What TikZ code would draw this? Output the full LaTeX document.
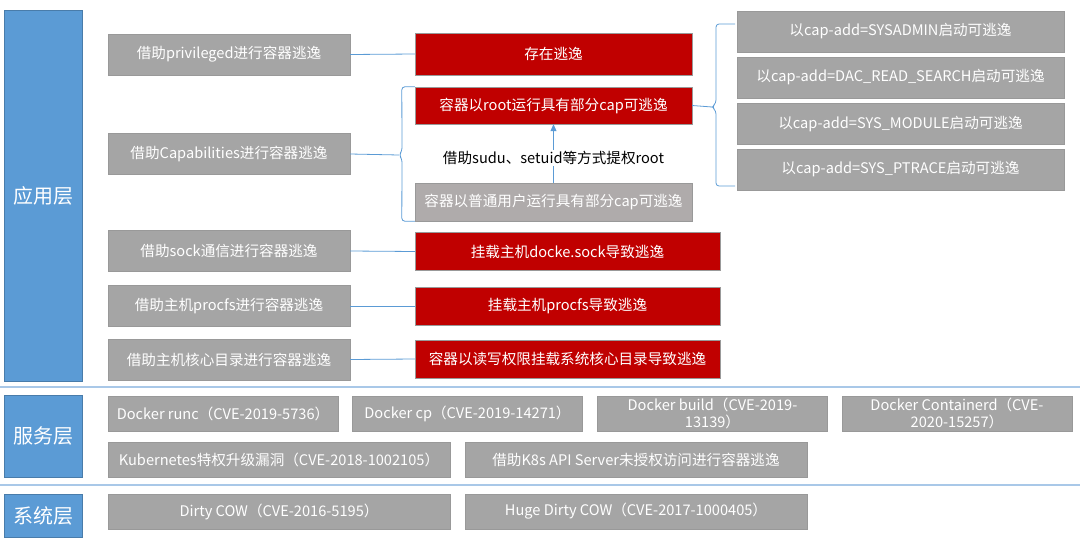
\documentclass[tikz,border=0pt]{standalone}
\usepackage{fontspec}
\setmainfont{Noto Sans CJK SC}
\usepackage{tikz}
\usetikzlibrary{positioning}
\usetikzlibrary{arrows.meta,calc}
\definecolor{tierblue}{HTML}{5B9BD5}
\definecolor{boxgray}{HTML}{A5A5A5}
\definecolor{usergray}{HTML}{AFABAB}
\definecolor{riskred}{HTML}{C00000}
\definecolor{divblue}{HTML}{A9C8E8}
\tikzstyle{tier}=[rectangle,fill=tierblue,draw=tierblue!80!black,text=white,inner sep=0pt,font=\fontsize{20}{23}\selectfont]
\tikzstyle{waybox}=[rectangle,fill=boxgray,draw=black!40,text=white,inner sep=0pt,align=center,font=\fontsize{14.6}{17.5}\selectfont]
\tikzstyle{riskbox}=[waybox,fill=riskred]
\tikzstyle{conn} = [draw,tierblue,line width=0.8pt]
\tikzstyle{divider} = [draw,divblue,line width=2.5pt]

\begin{document}
\begin{tikzpicture}[x=1pt,y=-1pt]
    \useasboundingbox (0,0) rectangle (1080,544);
    % First we draw the three layers on the left
    \foreach \pos/\name/\h/\label in {{(43,195.5)/app/371/应用层}, {(43,436)/svc/82/服务层}, {(43,515.5)/sys/43/系统层}}
        \node[tier,minimum width=78pt,minimum height=\h pt] (\name) at \pos {\label};

    \draw[divider] (0,387) -- (1080,387);
    \draw[divider] (0,485) -- (1080,485);

    % ways of escaping
    \foreach \pos/\name/\label in {{(229,54.5)/priv/借助privileged进行容器逃逸}, {(229,154)/caps/借助Capabilities进行容器逃逸}, {(229,251)/sock/借助sock通信进行容器逃逸}, {(229,306)/procfs/借助主机procfs进行容器逃逸}, {(229,359.5)/kdir/借助主机核心目录进行容器逃逸}}
        \node[waybox,minimum width=242pt,minimum height=41pt] (\name) at \pos {\label};

    % what makes it possible
    \node[riskbox,minimum width=277pt,minimum height=42pt] (exist) at (553.5,54) {存在逃逸};
    \node[riskbox,minimum width=277pt,minimum height=37pt] (root) at (553.5,105.5) {容器以root运行具有部分cap可逃逸};
    \node[waybox,fill=usergray,minimum width=277pt,minimum height=38pt] (user) at (553.5,202) {容器以普通用户运行具有部分cap可逃逸};
    \foreach \pos/\name/\label in {{(567.5,251.5)/docksock/挂载主机docke.sock导致逃逸}, {(567.5,306)/procmnt/挂载主机procfs导致逃逸}, {(567.5,359)/kmnt/容器以读写权限挂载系统核心目录导致逃逸}}
        \node[riskbox,minimum width=305pt,minimum height=38pt] (\name) at \pos {\label};

    \foreach \pos/\name/\label in {{(900.5,31.5)/capsys/以cap-add=SYSADMIN启动可逃逸}, {(900.5,77.5)/capdac/以cap-add=DAC\_READ\_SEARCH启动可逃逸}, {(900.5,124)/capmod/以cap-add=SYS\_MODULE启动可逃逸}, {(900.5,169.5)/capptr/以cap-add=SYS\_PTRACE启动可逃逸}}
        \node[waybox,minimum width=327pt,minimum height=41pt] (\name) at \pos {\label};

    % service and system layer
    \foreach \pos/\name/\label in {{(223,413.5)/runc/Docker runc（CVE-2019-5736）}, {(467.5,413.5)/dcp/Docker cp（CVE-2019-14271）}, {(712.5,413.5)/dbuild/Docker build（CVE-2019-\\13139）}, {(957,413.5)/ctrd/Docker Containerd（CVE-\\2020-15257）}}
        \node[waybox,minimum width=230pt,minimum height=35pt] (\name) at \pos {\label};
    \foreach \pos/\name/\label in {{(279,460)/kube/Kubernetes特权升级漏洞（CVE-2018-1002105）}, {(636,460)/kapi/借助K8s API Server未授权访问进行容器逃逸}, {(279,511.5)/dirty/Dirty COW（CVE-2016-5195）}, {(636,511.5)/huge/Huge Dirty COW（CVE-2017-1000405）}}
        \node[waybox,minimum width=342pt,minimum height=35pt] (\name) at \pos {\label};

    % Connect ways with causes
    \foreach \source/ \dest in {priv/exist, sock/docksock, procfs/procmnt, kdir/kmnt}
        \path[conn] (\source.east) -- (\dest.west);
    \path[conn,-{Triangle[length=7pt,width=6pt]}] (user.north) -- node[pos=0.42,fill=white,text=black,inner sep=1pt,font=\fontsize{14.6}{17.5}\selectfont] {借助sudu、setuid等方式提权root} (root.south);

    % braces
    \coordinate (ltip) at (399,155);
    \path[conn,rounded corners=3pt] (root.north west) -- ++(-13,0) -- ([xshift=3pt,yshift=4pt]ltip) -- (ltip) -- ([xshift=3pt,yshift=-4pt]ltip) -- ([xshift=-13pt]user.south west) -- (user.south west);
    \path[conn] (caps.east) -- (ltip);
    \coordinate (rtip) at (712,107);
    \coordinate (rtop) at (735,24);
    \coordinate (rbot) at (735,186);
    \path[conn,rounded corners=3pt] (rtop) -- ++(-19,0) -- ([xshift=4pt,yshift=4pt]rtip) -- (rtip) -- ([xshift=4pt,yshift=-4pt]rtip) -- ([xshift=-19pt]rbot) -- (rbot);
    \path[conn] (root.east) -- (rtip);
\end{tikzpicture}
\end{document}
